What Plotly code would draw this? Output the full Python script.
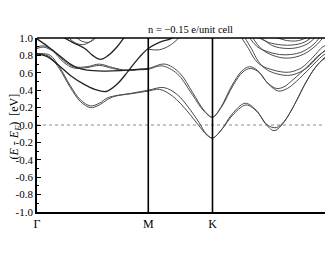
import plotly.graph_objects as go

# high-symmetry points along the path (Gamma-M-K-Gamma)
k_ticks = [0.0, 1.0, 1.577]
k_labels = ["Γ", "M", "K"]
k_max = 2.66

y_ticks = [1.0, 0.8, 0.6, 0.4, 0.2, 0.0, -0.2, -0.4, -0.6, -0.8, -1.0]
y_labels = ["1.0", "0.8", "0.6", "0.4", "0.2", "0.0", "-0.2", "-0.4", "-0.6", "-0.8", "-1.0"]

title_text = "n = −0.15 e/unit cell"

# ---- bands: (k, E) ----
band_low_a = [(0, 0.81), (0.06, 0.81), (0.12, 0.78), (0.20, 0.65), (0.30, 0.43), (0.39, 0.27),
              (0.48, 0.20), (0.56, 0.23), (0.63, 0.29), (0.70, 0.33), (0.85, 0.36), (1.0, 0.39),
              (1.10, 0.41), (1.22, 0.33), (1.35, 0.16), (1.45, 0.0), (1.53, -0.12), (1.577, -0.15),
              (1.65, -0.07), (1.75, 0.12), (1.87, 0.25), (1.97, 0.17), (2.05, 0.02), (2.13, -0.065),
              (2.20, 0.0), (2.30, 0.20), (2.40, 0.45), (2.50, 0.66), (2.58, 0.76), (2.66, 0.80)]
band_low_b = [(0, 0.82), (0.06, 0.82), (0.12, 0.80), (0.20, 0.67), (0.30, 0.45), (0.39, 0.29),
              (0.48, 0.22), (0.56, 0.25), (0.63, 0.31), (0.70, 0.335), (0.85, 0.365), (1.0, 0.40),
              (1.14, 0.43), (1.26, 0.35), (1.38, 0.17), (1.46, 0.02), (1.52, -0.10), (1.577, -0.15),
              (1.66, -0.05), (1.77, 0.13), (1.88, 0.23), (1.98, 0.15), (2.07, 0.0), (2.15, -0.03),
              (2.22, 0.04), (2.32, 0.25), (2.42, 0.50), (2.52, 0.69), (2.60, 0.79), (2.66, 0.83)]

band_mid_a = [(0, 0.895), (0.06, 0.91), (0.14, 0.86), (0.24, 0.74), (0.33, 0.67), (0.45, 0.67),
              (0.56, 0.70), (0.68, 0.66), (0.80, 0.63), (0.92, 0.64), (1.0, 0.65),
              (1.15, 0.70), (1.28, 0.60), (1.40, 0.37), (1.50, 0.17), (1.577, 0.09),
              (1.65, 0.20), (1.75, 0.45), (1.84, 0.62), (1.91, 0.67), (1.98, 0.63), (2.06, 0.50),
              (2.15, 0.42), (2.22, 0.44), (2.30, 0.52), (2.42, 0.66), (2.55, 0.82), (2.66, 0.90)]
band_mid_b = [(0, 0.88), (0.06, 0.895), (0.14, 0.85), (0.24, 0.72), (0.33, 0.655), (0.45, 0.66),
              (0.56, 0.685), (0.68, 0.65), (0.80, 0.625), (0.92, 0.635), (1.0, 0.64),
              (1.12, 0.68), (1.26, 0.59), (1.38, 0.38), (1.50, 0.16), (1.577, 0.09),
              (1.66, 0.21), (1.76, 0.45), (1.85, 0.61), (1.92, 0.65), (2.00, 0.60), (2.08, 0.47),
              (2.17, 0.39), (2.25, 0.42), (2.33, 0.50), (2.45, 0.65), (2.57, 0.80), (2.66, 0.87)]

band_diag = [(0.0, 0.99), (0.10, 0.90), (0.20, 0.80), (0.30, 0.70), (0.36, 0.66), (0.45, 0.63),
             (0.60, 0.62), (0.75, 0.625), (0.90, 0.64), (1.0, 0.645)]

band_vee = [(0, 0.82), (0.10, 0.78), (0.20, 0.68), (0.30, 0.57), (0.42, 0.47), (0.52, 0.41),
            (0.62, 0.385), (0.72, 0.47), (0.82, 0.62), (0.92, 0.78), (1.0, 0.88), (1.1, 0.95),
            (1.2, 0.99), (1.24, 1.02)]

band_e = [(1.0, 0.87), (1.10, 0.865), (1.20, 0.92), (1.29, 1.02)]

band_top = [(0.22, 1.02), (0.32, 0.95), (0.43, 0.88), (0.50, 0.80), (0.57, 0.755), (0.64, 0.80),
            (0.72, 0.90), (0.79, 1.02)]
band_s1 = [(0.27, 1.02), (0.35, 0.94), (0.42, 0.925), (0.48, 0.96), (0.52, 1.02)]
band_s2 = [(0.34, 1.02), (0.40, 0.965), (0.46, 0.95), (0.51, 0.98), (0.54, 1.02)]

band_q_a = [(1.83, 1.02), (1.90, 0.88), (1.96, 0.75), (2.02, 0.68), (2.10, 0.64), (2.20, 0.61),
            (2.28, 0.61), (2.38, 0.66), (2.48, 0.78), (2.57, 0.90), (2.66, 0.95)]
band_q_b = [(1.86, 1.02), (1.93, 0.87), (1.99, 0.73), (2.06, 0.64), (2.15, 0.59), (2.25, 0.57),
            (2.33, 0.59), (2.43, 0.66), (2.53, 0.79), (2.62, 0.89), (2.66, 0.92)]

band_b_a = [(1.90, 1.02), (1.98, 0.90), (2.08, 0.84), (2.18, 0.81), (2.28, 0.81), (2.38, 0.84),
            (2.48, 0.92), (2.55, 1.02)]
band_b_b = [(1.93, 1.02), (2.02, 0.87), (2.12, 0.80), (2.22, 0.77), (2.32, 0.78), (2.42, 0.83),
            (2.52, 0.93), (2.58, 1.02)]
band_a_a = [(1.97, 1.02), (2.08, 0.95), (2.20, 0.92), (2.30, 0.92), (2.40, 0.95), (2.48, 1.02)]
band_a_b = [(2.00, 1.02), (2.12, 0.91), (2.24, 0.88), (2.34, 0.89), (2.44, 0.94), (2.51, 1.02)]
band_c = [(2.12, 1.02), (2.25, 0.97), (2.35, 0.97), (2.45, 1.02)]

thin_bands = [band_low_a, band_low_b, band_mid_a, band_mid_b, band_e, band_s1, band_s2,
              band_q_a, band_q_b, band_b_a, band_b_b, band_a_a, band_a_b, band_c]
dark_bands = [band_diag, band_vee, band_top]

fig = go.Figure()

# Fermi level
fig.add_trace(go.Scatter(x=[0, k_max], y=[0, 0], mode="lines",
                         line=dict(color="#8a8a8a", width=1, dash="dot"),
                         hoverinfo="skip", showlegend=False))

for b in thin_bands:
    fig.add_trace(go.Scatter(x=[p[0] for p in b], y=[p[1] for p in b], mode="lines",
                             line=dict(color="#4a4a4a", width=1, shape="spline", smoothing=1.0),
                             hoverinfo="skip", showlegend=False))
for b in dark_bands:
    fig.add_trace(go.Scatter(x=[p[0] for p in b], y=[p[1] for p in b], mode="lines",
                             line=dict(color="#222222", width=1.3, shape="spline", smoothing=1.0),
                             hoverinfo="skip", showlegend=False))

# vertical lines at M and K
for kv in k_ticks[1:]:
    fig.add_shape(type="line", x0=kv, x1=kv, y0=-1, y1=1, xref="x", yref="y",
                  line=dict(color="black", width=1.6))
# top frame
fig.add_shape(type="line", x0=0, x1=1, y0=1, y1=1, xref="paper", yref="paper",
              line=dict(color="black", width=1.6))

serif = "Liberation Serif, Times New Roman, serif"

fig.update_layout(
    width=325, height=240,
    margin=dict(l=29, r=0, t=30, b=36),
    plot_bgcolor="white", paper_bgcolor="white",
    showlegend=False,
    xaxis=dict(range=[0, k_max], tickvals=k_ticks, ticktext=k_labels, showgrid=False,
               zeroline=False, showline=True, linecolor="black", linewidth=1.6,
               ticks="", tickfont=dict(family=serif, size=12, color="black")),
    yaxis=dict(range=[-1, 1], tickvals=y_ticks, ticktext=y_labels, showgrid=False,
               zeroline=False, showline=True, linecolor="black", linewidth=1.6,
               ticks="inside", ticklen=4, tickwidth=1, tickcolor="black",
               minor=dict(dtick=0.1, ticks="inside", ticklen=2.5, tickwidth=1, tickcolor="black"),
               tickfont=dict(family=serif, size=11, color="black")),
    annotations=[
        dict(text=title_text, x=0.517, y=1.05, xref="paper", yref="paper",
             showarrow=False, xanchor="center", yanchor="middle",
             font=dict(family=serif, size=10.5, color="black")),
        dict(text="(<i>E</i> - <i>E</i><sub><i>F</i></sub>)  [eV]", x=-0.075, y=-0.02,
             xref="paper", yref="y", textangle=-90, showarrow=False,
             xanchor="center", yanchor="middle",
             font=dict(family=serif, size=12, color="black")),
    ],
)

fig.write_html("out.html")
